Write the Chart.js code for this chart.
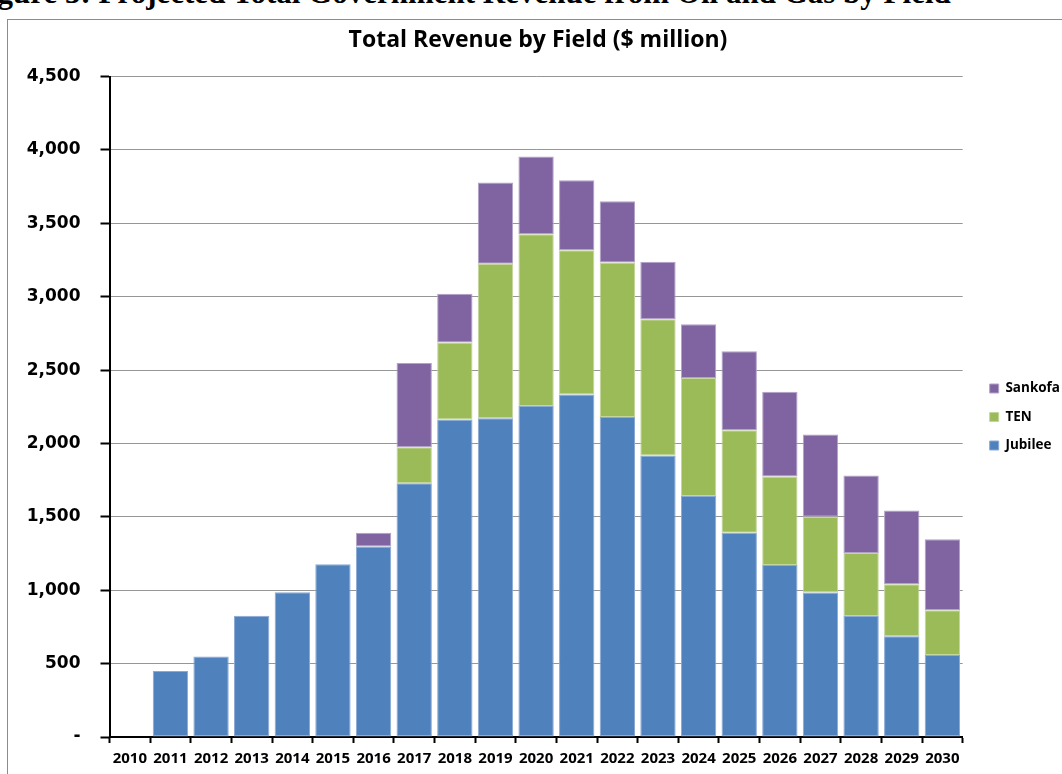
<!DOCTYPE html>
<html>
<head>
<meta charset="utf-8">
<title>Total Revenue by Field</title>
<script src="https://cdn.jsdelivr.net/npm/chart.js@4.4.1/dist/chart.umd.min.js"></script>
<style>
  html, body { margin: 0; padding: 0; background: #fff; overflow: hidden; }
  #page { position: relative; width: 1062px; height: 774px; overflow: hidden; }
  #caption {
    position: absolute; left: -30px; top: -23px; white-space: nowrap;
    font: bold 31px/31px "Liberation Serif", "Times New Roman", serif; color: #000;
  }
  #frame {
    position: absolute; left: 7px; top: 19px; width: 1100px; height: 800px;
    border-left: 1px solid #8c8c8c; border-top: 1px solid #8c8c8c;
  }
  #revenue-canvas { position: absolute; left: 0; top: 0; }
</style>
</head>
<body>
<div id="page">
  <div id="caption">Figure 3: Projected Total Government Revenue from Oil and Gas by Field</div>
  <div id="frame"></div>
  <canvas id="revenue-canvas" width="1062" height="774"></canvas>
</div>
<script>
// Revenue per field, $ million
const years = ["2010", "2011", "2012", "2013", "2014", "2015", "2016", "2017", "2018", "2019", "2020",
	"2021", "2022", "2023", "2024", "2025", "2026", "2027", "2028", "2029", "2030"];
const jubilee = [null, 450, 548, 827, 986, 1177, 1298, 1729, 2164, 2172, 2256,
	2334, 2181, 1918, 1643, 1391, 1172, 984, 825, 686, 558];
const ten = [null, null, null, null, null, null, null, 246, 524, 1052, 1169,
	982, 1053, 929, 804, 700, 603, 516, 429, 355, 306];
const sankofa = [null, null, null, null, null, null, 93, 574, 332, 555, 531,
	477, 416, 391, 366, 538, 577, 561, 528, 502, 484];
const yMax = 4500;
const yStep = 500;

// push the legend over a bit, chart.js always hugs it to the plot
const legendNudge = {
	id: "legendNudge",
	afterLayout(chart) {
		const lg = chart.legend;
		lg.left += 12;
		lg.right += 12;
		lg.top += 30;
		lg.bottom += 30;
	},
};

const boldOpen = (size) => ({ family: "Open Sans", weight: "bold", size: size });

new Chart("revenue-canvas", {
	type: "bar",
	data: {
		labels: years,
		datasets: [
			{
				label: "Jubilee",
				data: jubilee,
				backgroundColor: "#4f81bd",
				borderColor: "#8aa9d4",
			},
			{
				label: "TEN",
				data: ten,
				backgroundColor: "#9bbb59",
				borderColor: "#c3d69b",
			},
			{
				label: "Sankofa",
				data: sankofa,
				backgroundColor: "#8064a2",
				borderColor: "#b3a2c7",
			},
		],
	},
	options: {
		responsive: false,
		animation: false,
		events: [],
		datasets: {
			bar: {
				barPercentage: 0.87,
				categoryPercentage: 1.0,
				borderWidth: 1,
				borderSkipped: false,
			},
		},
		layout: {
			padding: { left: 18, right: 4, top: 0, bottom: 0 },
		},
		plugins: {
			title: {
				display: true,
				text: "Total Revenue by Field ($ million)",
				color: "#000",
				font: boldOpen(23),
				padding: { top: 27, bottom: 22 },
			},
			legend: {
				position: "right",
				reverse: true,
				labels: {
					color: "#000",
					font: boldOpen(13.5),
					boxWidth: 9,
					boxHeight: 9,
					padding: 15,
				},
			},
			tooltip: { enabled: false },
		},
		scales: {
			x: {
				stacked: true,
				ticks: {
					color: "#000",
					font: boldOpen(15),
					padding: 7,
					maxRotation: 0,
					autoSkip: false,
				},
				grid: {
					drawOnChartArea: false,
					offset: true,
					tickLength: 6,
					tickColor: "#000",
					tickWidth: 2,
				},
				border: { color: "#000", width: 2 },
				afterFit(scale) {
					scale.height = 37;
				},
			},
			y: {
				stacked: true,
				min: 0,
				max: yMax,
				ticks: {
					stepSize: yStep,
					color: "#000",
					padding: 20,
					font: { family: "DejaVu Sans", weight: "bold", size: 17 },
					callback: (v) => (v === 0 ? "-" : v.toLocaleString("en-US")),
				},
				grid: {
					color: "#969696",
					lineWidth: 1,
					tickLength: 9,
					tickColor: "#000",
					tickWidth: 2,
				},
				border: { color: "#000", width: 2 },
				afterFit(scale) {
					scale.width = 91.5;
				},
			},
		},
	},
	plugins: [legendNudge],
});
</script>
</body>
</html>
